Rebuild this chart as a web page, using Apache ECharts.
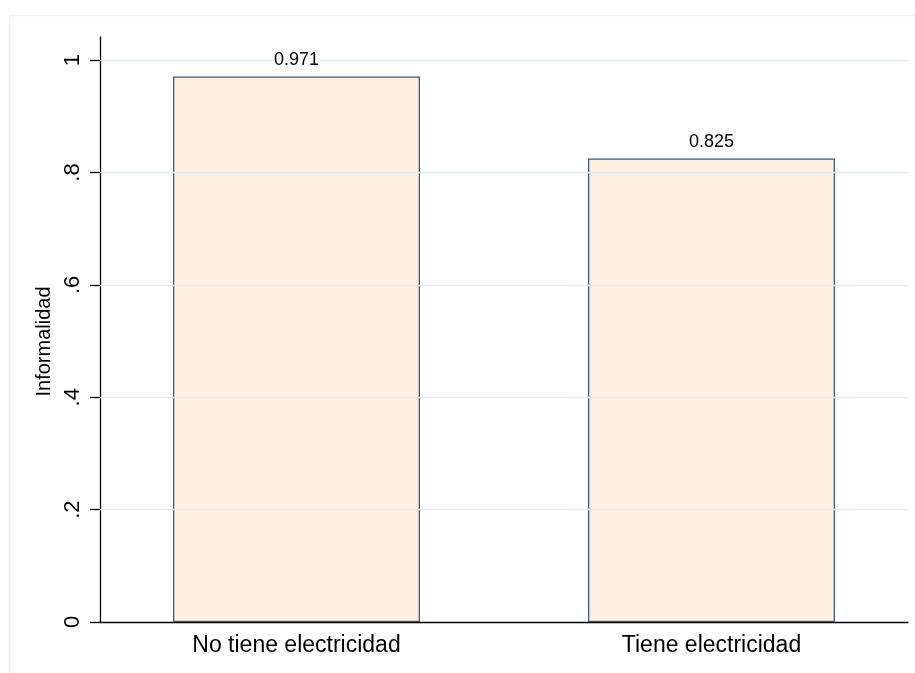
<!DOCTYPE html>
<html>
<head>
<meta charset="utf-8">
<script src="https://cdn.jsdelivr.net/npm/echarts@6/dist/echarts.min.js"></script>
<style>
html,body{margin:0;padding:0;background:#fff;}
#chart{width:915px;height:673px;}
</style>
</head>
<body>
<div id="chart"></div>
<script>
const categories = ["No tiene electricidad", "Tiene electricidad"];
const positions = [1, 2];
const informalidad = [0.971, 0.825];
const valueLabels = ["0.971", "0.825"];
const yTicks = [0, 0.2, 0.4, 0.6, 0.8, 1];
const yTickLabels = ["0", ".2", ".4", ".6", ".8", "1"];

const FONT = "'Liberation Sans', Arial, sans-serif";
const chart = echarts.init(document.getElementById('chart'));

const barData = positions.map((p, i) => [p, informalidad[i]]);

chart.setOption({
  animation: false,
  backgroundColor: '#ffffff',
  graphic: [{
    type: 'rect',
    left: 7, top: 13,
    shape: {width: 1000, height: 1000},
    style: {fill: 'none', stroke: '#eaf1f3', lineWidth: 1.5},
    silent: true,
    z: -10
  }],
  grid: {left: 100, right: 7, top: 37, bottom: 51, containLabel: false},
  xAxis: {
    type: 'value',
    min: 0.5265,
    max: 2.4735,
    splitLine: {show: false},
    axisTick: {show: false},
    axisLine: {show: true, lineStyle: {color: '#000', width: 1.3}},
    axisLabel: {
      customValues: positions,
      formatter: function (v) {
        const i = positions.indexOf(Math.round(v));
        return i >= 0 ? categories[i] : '';
      },
      color: '#000', fontSize: 23, fontFamily: FONT, margin: 12
    }
  },
  yAxis: {
    type: 'value',
    min: 0,
    max: 1.0413,
    name: 'Informalidad',
    nameLocation: 'middle',
    nameRotate: 90,
    nameGap: 41,
    nameTextStyle: {color: '#000', fontSize: 20, fontFamily: FONT, padding: [0, 24, 0, 0]},
    splitLine: {show: false},
    axisLine: {show: true, lineStyle: {color: '#000', width: 1.3}},
    axisTick: {show: true, length: 10, customValues: yTicks, lineStyle: {color: '#000', width: 1.3}},
    axisLabel: {
      customValues: yTicks,
      rotate: 90,
      formatter: function (v) {
        const i = yTicks.findIndex(t => Math.abs(t - v) < 1e-6);
        return i >= 0 ? yTickLabels[i] : '';
      },
      color: '#000', fontSize: 22, fontFamily: FONT, margin: 16
    }
  },
  series: [{
    type: 'bar',
    data: barData,
    barWidth: 247,
    z: 2,
    itemStyle: {color: '#fdf0e3', borderColor: '#3d5b7c', borderWidth: 1.3},
    markLine: {
      silent: true,
      symbol: ['none', 'none'],
      label: {show: false},
      lineStyle: {color: '#e3ecee', type: 'solid', width: 1.3},
      data: yTicks.filter(t => t > 0).map(t => ({yAxis: t})),
      z: 5
    }
  }, {
    type: 'bar',
    data: barData,
    barWidth: 247,
    barGap: '-100%',
    z: 10,
    silent: true,
    itemStyle: {color: 'rgba(0,0,0,0)', borderWidth: 0},
    label: {
      show: true,
      position: 'top',
      distance: 7,
      formatter: function (p) { return valueLabels[p.dataIndex]; },
      color: '#000', fontSize: 18, fontFamily: FONT,
      backgroundColor: '#ffffff', padding: [0, 1]
    }
  }]
});
</script>
</body>
</html>
